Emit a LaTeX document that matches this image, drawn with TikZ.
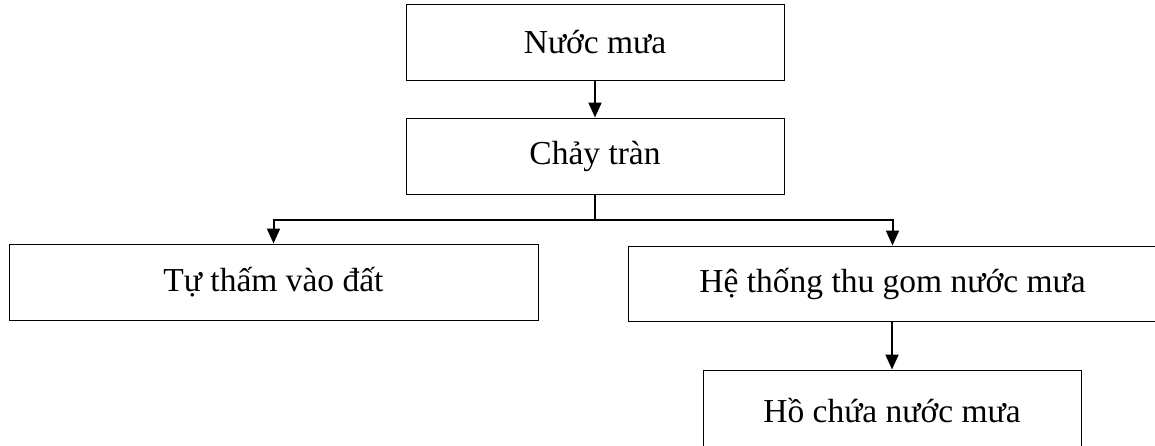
\documentclass[tikz,border=0pt]{standalone}
\usepackage{fontspec}
\setmainfont{Liberation Serif}
\usetikzlibrary{arrows.meta}
\begin{document}
\begin{tikzpicture}[x=1pt,y=-1pt,
  box/.style={draw=black, line width=1pt, inner sep=0pt, fill=white,
    font=\fontsize{33.5}{40}\selectfont},
  link/.style={line width=2pt},
  arr/.style={link, -{Triangle[width=13pt,length=15pt]}}]
  \clip (0,0) rectangle (1155,445);
  \fill[white] (0,0) rectangle (1155,445);

  \node[box, minimum width=378pt, minimum height=76pt] (rain) at (595,42) {Nước mưa};
  \node[box, minimum width=378pt, minimum height=76pt] (runoff) at (595,156) {Chảy tràn};
  \node[box, minimum width=529pt, minimum height=76pt] (soak) at (273.5,282) {Tự thấm vào đất};
  \node[box, minimum width=529pt, minimum height=75pt] (collect) at (892.5,283.5) {Hệ thống thu gom nước mưa};
  \node[box, minimum width=378pt, minimum height=82pt] (pond) at (892,411) {Hồ chứa nước mưa};

  \coordinate (split) at (595,219.5);

  \draw[arr] (rain) -- (runoff);
  \draw[link] (runoff) -- (split);
  \draw[arr] (split) -| (soak);
  \draw[arr] (split) -| (collect);
  \draw[arr] (collect.south -| pond.north) -- (pond);
\end{tikzpicture}
\end{document}
